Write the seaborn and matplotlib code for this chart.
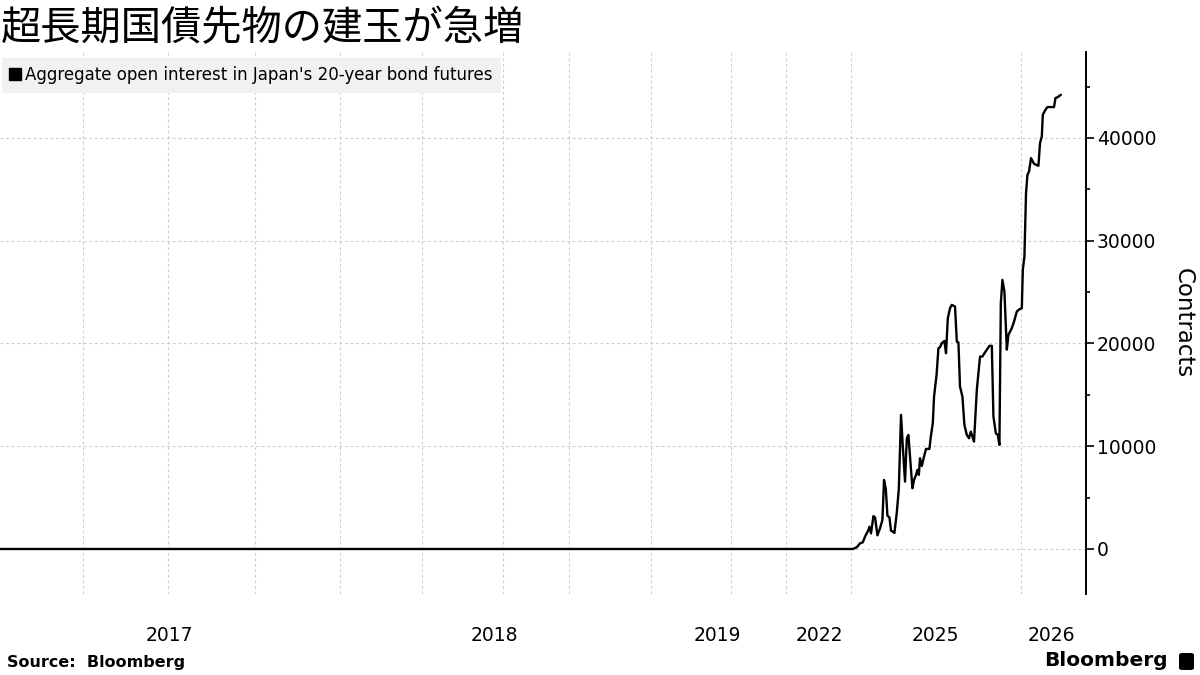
"""
plot.py
-------
Open interest in Japan's 20-year (super-long) JGB futures, Bloomberg style.
X axis is an observation index (gaps between trading periods are squeezed out).
"""
import matplotlib
matplotlib.use("Agg")
import matplotlib.pyplot as plt
from matplotlib.lines import Line2D
from matplotlib.patches import FancyBboxPatch
import pandas as pd
import seaborn as sns

sns.set_theme(style="white")
plt.rcParams["font.family"] = ["DejaVu Sans", "Noto Sans CJK JP"]
plt.rcParams.update({"text.color": "black", "axes.labelcolor": "black",
                     "xtick.color": "black", "ytick.color": "black"})

TITLE = "超長期国債先物の建玉が急増"
SERIES_NAME = "Aggregate open interest in Japan's 20-year bond futures"

obs = [0, 426.4, 428.4, 430, 431.4, 432.5, 434.2, 434.7, 435.5, 436.7,
       437.5, 438.7, 440, 441.2, 442, 442.9, 443.7, 444.7, 445.5, 446.4,
       447.2, 448.4, 449.4, 450.5, 451.4, 452.5, 453.4, 454.2, 455, 456.2,
       457, 458, 458.7, 459.4, 460, 460.9, 462, 463, 464.7, 465.4,
       466.4, 467, 468.3, 469.2, 470, 470.9, 472.2, 473, 473.9, 475,
       475.9, 477.5, 478.4, 479.2, 480, 481.2, 482.2, 483.4, 484.5, 485.4,
       486.2, 487, 488.4, 490, 491.2, 492.2, 493.9, 494.7, 495.9, 496.7,
       497.9, 498.9, 499.7, 500.4, 501.2, 502.2, 503.4, 504.2, 505.9, 507,
       508.4, 509.7, 510.9, 511.4, 512.2, 513, 513.7, 514.5, 515.5, 517,
       519.2, 520, 520.9, 521.4, 522.5, 523.7, 527, 527.7, 528.9, 530.4]
contracts = [0, 0, 170, 550, 650, 1200, 1850, 2170, 1520, 3200,
             3080, 1330, 2010, 2820, 6720, 5840, 3240, 3080, 1780, 1690,
             1560, 3570, 5840, 13050, 9960, 6560, 10780, 11100, 8990, 5910,
             6720, 7210, 7700, 7210, 8830, 8080, 8990, 9740, 9740, 10940,
             12240, 14800, 17000, 19540, 19640, 20030, 20250, 19050, 22460, 23430,
             23760, 23590, 20190, 20090, 15800, 14830, 12070, 11100, 10780, 11420,
             10940, 10450, 15480, 18730, 18730, 19050, 19540, 19770, 19770, 12890,
             11260, 11100, 10130, 23920, 26190, 25060, 19400, 20840, 21490, 22130,
             23110, 23340, 23430, 27160, 28460, 34630, 36410, 36740, 38040, 37490,
             37290, 39500, 40150, 42260, 42680, 43010, 43010, 43880, 43980, 44200]

# period boundaries (vertical grid) and year label positions, in observation units
grid_obs = [41.7, 84.2, 127.3, 169.8, 210.9, 251.3, 284.5, 325.3, 365.5,
            393.2, 425.7, 467.5, 510.5]
year_obs = [84.75, 247.4, 358.75, 409.5, 467.5, 525.8]
year_labels = ["2017", "2018", "2019", "2022", "2025", "2026"]

GRID = dict(color="#cccccc", linestyle=(0, (2.5, 2.5)), linewidth=0.8)

df = pd.DataFrame({"obs": obs, "contracts": contracts})

fig = plt.figure(figsize=(12, 6.75), dpi=100)
ax = fig.add_axes([0, 0.12, 0.9046, 0.803])

sns.lineplot(data=df, x="obs", y="contracts", ax=ax, color="black",
             linewidth=1.7, zorder=3)

ax.set_xlim(0, 542.75)
ax.set_ylim(-4380, 48370)

# x axis: labels only, grid on period boundaries
ax.set_xticks(year_obs)
ax.set_xticklabels(year_labels, fontsize=13.5)
ax.set_xticks(grid_obs, minor=True)
ax.tick_params(axis="x", which="both", length=0, pad=23)
ax.grid(False)
ax.grid(True, axis="x", which="minor", **GRID)

# y axis on the right
ax.yaxis.tick_right()
ax.yaxis.set_label_position("right")
ax.set_yticks([0, 10000, 20000, 30000, 40000])
ax.set_yticks([5000, 15000, 25000, 35000, 45000], minor=True)
ax.tick_params(axis="y", which="major", direction="out", length=6, width=1.2,
               labelsize=13.5, pad=2)
ax.tick_params(axis="y", which="minor", direction="out", length=3, width=1.2)
ax.grid(True, axis="y", which="major", **GRID)
ax.set_ylabel("")
ax.set_xlabel("")

for side in ["top", "left", "bottom"]:
    ax.spines[side].set_visible(False)
ax.spines["right"].set_color("black")
ax.spines["right"].set_linewidth(1.4)

# legend box
handle = Line2D([], [], marker="s", color="black", linestyle="none", markersize=9)
leg = ax.legend([handle], [SERIES_NAME], loc="upper left",
                bbox_to_anchor=(2 / 1200, 1 - 58 / 675), bbox_transform=fig.transFigure,
                borderaxespad=0, fontsize=12, handlelength=0.6, handletextpad=0.3,
                borderpad=0.5, frameon=True, fancybox=False)
leg.get_frame().set_facecolor("#f1f1f1")
leg.get_frame().set_edgecolor("none")
leg.get_frame().set_alpha(1)

fig.text(1183 / 1200, 1 - 323 / 675, "Contracts", rotation=270, fontsize=16.5,
         ha="center", va="center")

fig.text(0.001, 1 - 29 / 675, TITLE, fontsize=29, ha="left", va="center",
         family=["Noto Sans CJK JP", "DejaVu Sans"])

fig.text(7 / 1200, 1 - 662 / 675, "Source:  Bloomberg", fontsize=11.5,
         fontweight="bold", ha="left", va="center")
fig.text(1168 / 1200, 1 - 661 / 675, "Bloomberg", fontsize=14.5,
         fontweight="bold", ha="right", va="center")
fig.patches.append(FancyBboxPatch((1179 / 1200, 1 - 670 / 675), 15 / 1200, 17 / 675,
                                  boxstyle="round,pad=0,rounding_size=0.003",
                                  transform=fig.transFigure, facecolor="black",
                                  edgecolor="none"))

fig.savefig("out.png", dpi=100)
